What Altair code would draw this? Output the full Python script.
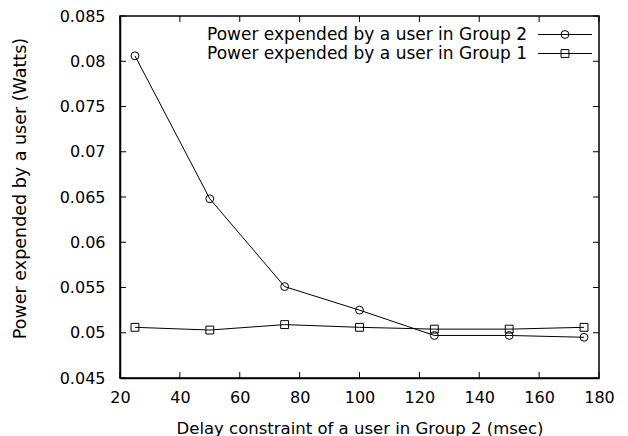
import altair as alt
import pandas as pd

delay = [25, 50, 75, 100, 125, 150, 175]
group2 = [0.0806, 0.0648, 0.0551, 0.0525, 0.0497, 0.0497, 0.0495]
group1 = [0.0506, 0.0503, 0.0509, 0.0506, 0.0504, 0.0504, 0.0506]
series_names = ["Power expended by a user in Group 2", "Power expended by a user in Group 1"]
series_shapes = ["circle", "square"]
x_ticks = [20, 40, 60, 80, 100, 120, 140, 160, 180]
y_ticks = [0.045, 0.05, 0.055, 0.06, 0.065, 0.07, 0.075, 0.08, 0.085]

W, H = 479, 362
FONT = "DejaVu Sans"
FS = 16

rows = []
for name, vals in zip(series_names, [group2, group1]):
    for d, v in zip(delay, vals):
        rows.append({"delay": d, "power": v, "series": name})
df = pd.DataFrame(rows)

xscale = alt.Scale(domain=[20, 180], nice=False)
yscale = alt.Scale(domain=[0.045, 0.085], nice=False, zero=False)

xaxis = alt.Axis(values=x_ticks, title="Delay constraint of a user in Group 2 (msec)",
                 tickSize=0, labelPadding=11, grid=False, labelFlush=False,
                 titleY=55, titleBaseline="alphabetic", titleFontSize=16.5)
yaxis = alt.Axis(values=y_ticks, format="~g", title="Power expended by a user (Watts)",
                 tickSize=0, labelPadding=15, grid=False, labelFlush=False, titleFontSize=17.5,
                 titleX=-100, titleY=172, titleAngle=-90, titleAlign="center", titleBaseline="middle")

base = alt.Chart(df)
lines = base.mark_line(color="black", strokeWidth=1).encode(
    x=alt.X("delay:Q", scale=xscale, axis=xaxis),
    y=alt.Y("power:Q", scale=yscale, axis=yaxis),
    detail="series:N",
)
points = base.mark_point(filled=False, color="black", strokeWidth=1, size=62, opacity=1).encode(
    x=alt.X("delay:Q", scale=xscale, axis=xaxis),
    y=alt.Y("power:Q", scale=yscale, axis=yaxis),
    shape=alt.Shape("series:N", scale=alt.Scale(domain=series_names, range=series_shapes), legend=None),
)

# inward ticks (gnuplot style), all four sides
xt = pd.DataFrame({"delay": x_ticks})
yt = pd.DataFrame({"power": y_ticks})
tk = 6
xt_bottom = alt.Chart(xt).mark_rule(color="black", strokeWidth=1).encode(
    x=alt.X("delay:Q", scale=xscale, axis=xaxis), y=alt.value(H), y2=alt.value(H - tk))
xt_top = alt.Chart(xt).mark_rule(color="black", strokeWidth=1).encode(
    x=alt.X("delay:Q", scale=xscale, axis=xaxis), y=alt.value(0), y2=alt.value(tk))
yt_left = alt.Chart(yt).mark_rule(color="black", strokeWidth=1).encode(
    y=alt.Y("power:Q", scale=yscale, axis=yaxis), x=alt.value(0), x2=alt.value(tk))
yt_right = alt.Chart(yt).mark_rule(color="black", strokeWidth=1).encode(
    y=alt.Y("power:Q", scale=yscale, axis=yaxis), x=alt.value(W - tk), x2=alt.value(W))

# manual legend (labels left, samples right)
legend_layers = []
for i, (name, shp) in enumerate(zip(series_names, series_shapes)):
    ly = 18.5 + i * 19
    d1 = pd.DataFrame({"label": [name]})
    legend_layers.append(alt.Chart(d1).mark_text(align="right", baseline="middle", font=FONT,
                                                 fontSize=17, color="black").encode(
        text="label:N", x=alt.value(407), y=alt.value(ly)))
    legend_layers.append(alt.Chart(d1).mark_rule(color="black", strokeWidth=1).encode(
        x=alt.value(418), x2=alt.value(472), y=alt.value(ly)))
    legend_layers.append(alt.Chart(d1).mark_point(shape=shp, filled=False, color="black",
                                                  strokeWidth=1, size=62, opacity=1).encode(
        x=alt.value(445), y=alt.value(ly)))

chart = alt.layer(lines, points, xt_bottom, xt_top, yt_left, yt_right, *legend_layers).properties(
    width=W, height=H,
    background="white",
    autosize=alt.AutoSizeParams(type="none"),
    padding={"left": 112, "top": 8, "right": 21, "bottom": 62},
).configure_view(stroke="black", strokeWidth=1.5).configure_axis(
    labelFont=FONT, labelFontSize=FS, labelColor="black",
    titleFont=FONT, titleFontSize=FS, titleFontWeight="normal", titleColor="black",
    domainColor="black", domainWidth=1.5,
)

chart.save("out.html", embed_options={"renderer": "svg", "actions": False})
